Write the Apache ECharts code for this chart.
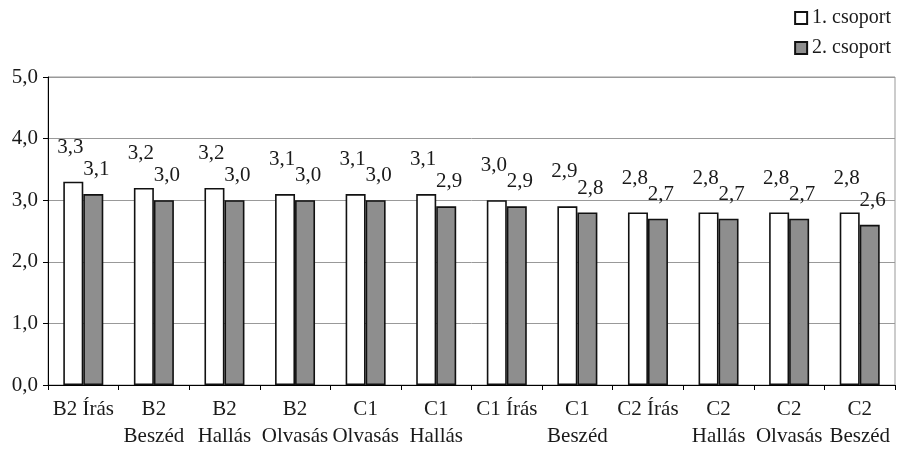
<!DOCTYPE html>
<html>
<head>
<meta charset="utf-8">
<script src="https://cdn.jsdelivr.net/npm/echarts@6/dist/echarts.min.js"></script>
<style>
html,body{margin:0;padding:0;background:#fff;}
#chart{width:900px;height:450px;}
</style>
</head>
<body>
<div id="chart"></div>
<script>
var categories = ['B2 Írás', 'B2\nBeszéd', 'B2\nHallás', 'B2\nOlvasás', 'C1\nOlvasás', 'C1\nHallás', 'C1 Írás', 'C1\nBeszéd', 'C2 Írás', 'C2\nHallás', 'C2\nOlvasás', 'C2\nBeszéd'];
var group1 = [3.3, 3.2, 3.2, 3.1, 3.1, 3.1, 3.0, 2.9, 2.8, 2.8, 2.8, 2.8];
var group2 = [3.1, 3.0, 3.0, 3.0, 3.0, 2.9, 2.9, 2.8, 2.7, 2.7, 2.7, 2.6];
var seriesNames = ['1. csoport', '2. csoport'];
var yTicks = [0, 1, 2, 3, 4, 5];

var FONT = '"Liberation Serif", "DejaVu Serif", serif';
var TXT = '#1a1a1a';
function fmt(v){ return Number(v).toFixed(1).replace('.', ','); }

var chart = echarts.init(document.getElementById('chart'), null, {renderer:'canvas'});
chart.setOption({
  backgroundColor: '#ffffff',
  animation: false,
  textStyle: {fontFamily: FONT, color: TXT},
  legend: {
    orient: 'vertical',
    right: 4,
    top: 3,
    itemWidth: 12,
    itemHeight: 12,
    itemGap: 10,
    icon: 'rect',
    textStyle: {fontFamily: FONT, fontSize: 20, color: TXT, lineHeight: 20},
    data: seriesNames
  },
  grid: {
    left: 48, right: 5, top: 77, bottom: 64,
    show: true, borderColor: '#999', borderWidth: 1, backgroundColor: 'transparent'
  },
  xAxis: {
    type: 'category',
    data: categories,
    axisLine: {show: true, lineStyle: {color: '#000', width: 1}},
    axisTick: {show: true, alignWithLabel: false, length: 5, lineStyle: {color: '#000'}},
    axisLabel: {fontFamily: FONT, fontSize: 21, color: TXT, lineHeight: 27, margin: 11, interval: 0}
  },
  yAxis: {
    type: 'value',
    min: yTicks[0],
    max: yTicks[yTicks.length - 1],
    interval: 1,
    axisLine: {show: true, lineStyle: {color: '#000', width: 1}},
    axisTick: {show: true, length: 5, lineStyle: {color: '#000'}},
    splitLine: {show: true, lineStyle: {color: '#999', width: 1}},
    axisLabel: {fontFamily: FONT, fontSize: 21, color: TXT, margin: 10, formatter: fmt}
  },
  series: [
    {
      name: seriesNames[0],
      type: 'bar',
      data: group1,
      barWidth: 20,
      barGap: '0%',
      itemStyle: {color: '#ffffff', borderColor: '#111', borderWidth: 1.6},
      label: {show: true, position: 'top', distance: 24, offset: [-3, 0], fontFamily: FONT, fontSize: 21, color: TXT, formatter: function(p){ return fmt(p.value); }}
    },
    {
      name: seriesNames[1],
      type: 'bar',
      data: group2,
      barWidth: 20,
      barGap: '0%',
      itemStyle: {color: '#8e8e8e', borderColor: '#111', borderWidth: 1.6},
      label: {show: true, position: 'top', distance: 14, offset: [3, 0], fontFamily: FONT, fontSize: 21, color: TXT, formatter: function(p){ return fmt(p.value); }}
    }
  ]
});
</script>
</body>
</html>
